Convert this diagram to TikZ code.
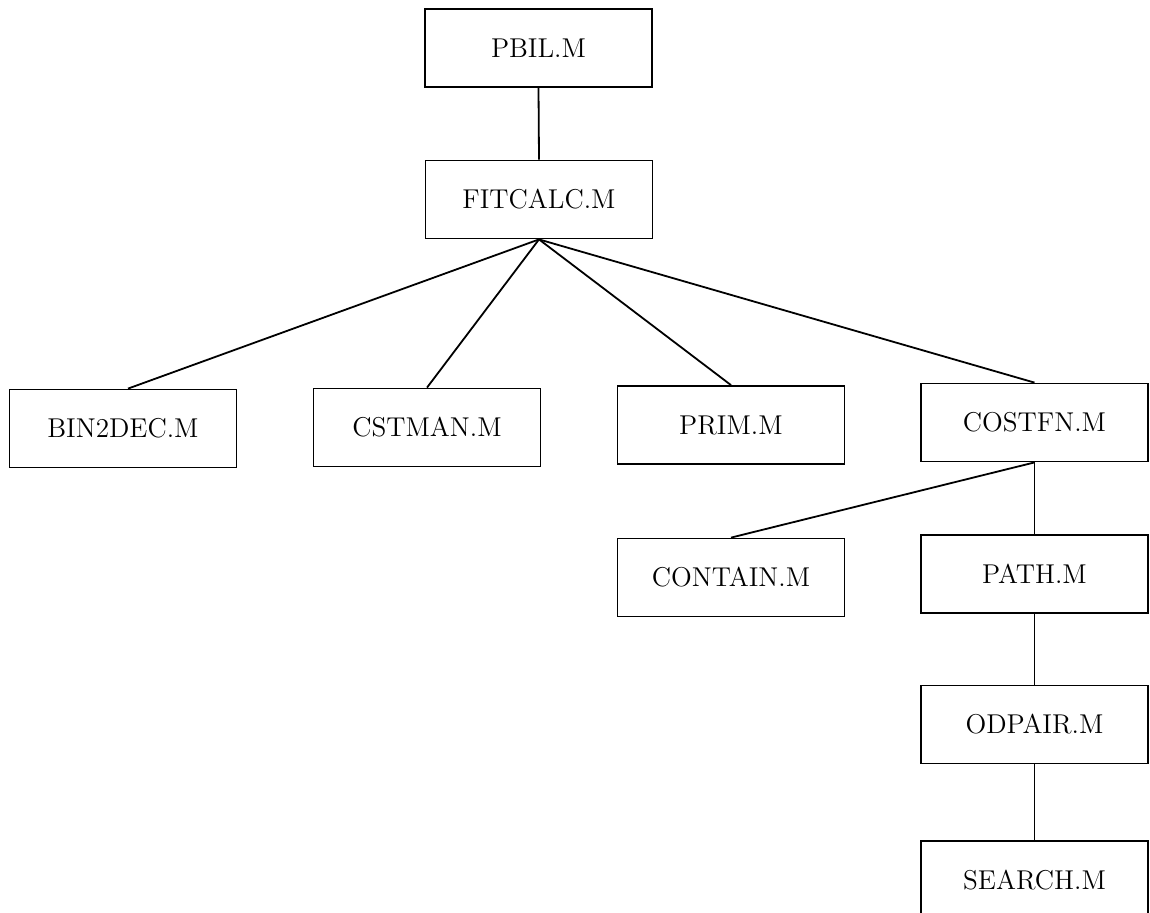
\documentclass[tikz,border=0pt]{standalone}
\begin{document}
\begin{tikzpicture}[x=0.5pt,y=-0.5pt,
  filebox/.style={draw, line width=0.9pt, minimum width=113.5pt, minimum height=39pt,
    inner sep=0pt, font=\fontsize{13.6}{16}\selectfont},
  link/.style={line width=0.9pt}]
  \useasboundingbox (0,0) rectangle (1150,912);
  \clip (0,0) rectangle (1150,912);
  % module boxes
  \node[filebox] (pbil)    at (538.5,48)    {PBIL.M};
  \node[filebox] (fitcalc) at (539,199.5)   {FITCALC.M};
  \node[filebox] (bin2dec) at (123,428.5)   {BIN2DEC.M};
  \node[filebox] (cstman)  at (427,427.5)   {CSTMAN.M};
  \node[filebox] (prim)    at (731,425)     {PRIM.M};
  \node[filebox] (costfn)  at (1034.5,422.5){COSTFN.M};
  \node[filebox] (contain) at (731,577.5)   {CONTAIN.M};
  \node[filebox] (path)    at (1034.5,574)  {PATH.M};
  \node[filebox] (odpair)  at (1034.5,724.5){ODPAIR.M};
  \node[filebox] (search)  at (1034.5,880)  {SEARCH.M};
  % call hierarchy
  \draw[link] (pbil.south) -- (fitcalc.north);
  \draw[link] (fitcalc.south) -- ([xshift=2.5pt]bin2dec.north);
  \draw[link] (fitcalc.south) -- (cstman.north);
  \draw[link] (fitcalc.south) -- (prim.north);
  \draw[link] (fitcalc.south) -- (costfn.north);
  \draw[link] (costfn.south) -- (contain.north);
  \draw[link] (costfn.south) -- (path.north);
  \draw[link] (path.south) -- (odpair.north);
  \draw[link] (odpair.south) -- (search.north);
\end{tikzpicture}
\end{document}
